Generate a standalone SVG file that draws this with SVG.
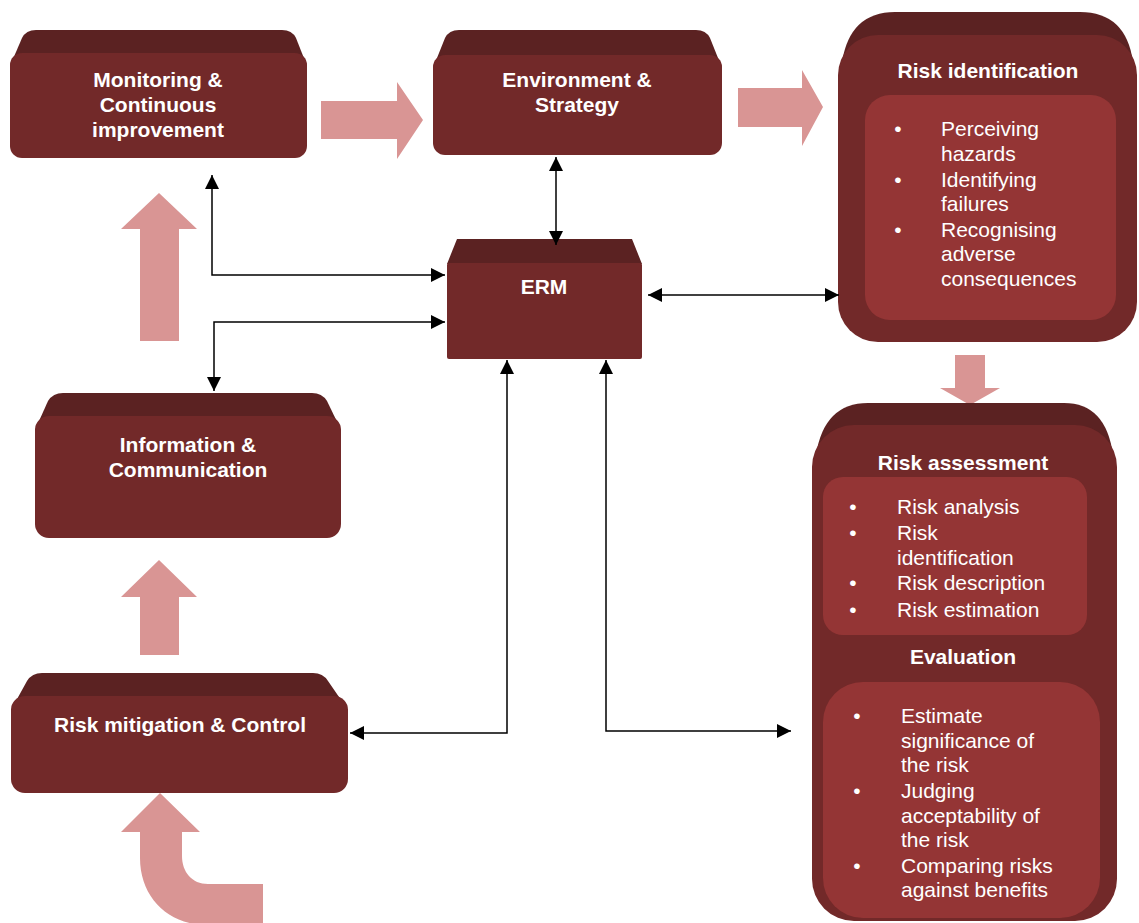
<svg xmlns="http://www.w3.org/2000/svg" width="1139" height="923" viewBox="0 0 1139 923">
  <style>
    .top { fill: #5B2222; }
    .front { fill: #722929; }
    .inner { fill: #943535; }
    .flow { fill: #D99594; }
    .title { font-family: "Liberation Sans", Arial, sans-serif; font-weight: bold; font-size: 21px; fill: #FFFFFF; text-anchor: middle; }
    .body { font-family: "Liberation Sans", Arial, sans-serif; font-size: 21px; fill: #FFFFFF; }
    .bullet { text-anchor: middle; }
    .link { fill: none; stroke: #000000; stroke-width: 1.5; marker-start: url(#head); marker-end: url(#head); }
  </style>
  <defs>
    <marker id="head" viewBox="0 0 14 14" refX="14" refY="7" markerWidth="14" markerHeight="14" markerUnits="userSpaceOnUse" orient="auto-start-reverse">
      <path d="M0,0 L14,7 L0,14 Z" fill="#000000"/>
    </marker>
  </defs>

  <rect width="1139" height="923" fill="#FFFFFF"/>

  <!-- process flow block arrows -->
  <g id="flow-arrows">
    <path class="flow" d="M321,101 H397 V82 L423,120 L397,159 V139 H321 Z"/>
    <path class="flow" d="M738,88 H802 V70 L823,107 L802,146 V127 H738 Z"/>
    <path class="flow" d="M140,341 V229 H121 L159,193 L197,229 H179 V341 Z"/>
    <path class="flow" d="M140,655 V597 H121 L159,560 L197,597 H179 V655 Z"/>
    <path class="flow" d="M955,355 H985 V388 H1000 L970,405 L940,388 H955 Z"/>
    <path class="flow" d="M121,832 L160,793 L200,832 H182 V856 C182,872 192,884 208,884 H263 V925 H207 C168,925 140,897 140,858 V832 Z"/>
  </g>

  <!-- Monitoring & Continuous improvement -->
  <g id="monitoring">
    <path class="top" d="M10,66 L22,38 Q26,30 36,30 H282 Q292,30 296,38 L307,66 Z"/>
    <rect class="front" x="10" y="53" width="297" height="105" rx="12"/>
    <text class="title" x="158" y="87">Monitoring &amp;</text>
    <text class="title" x="158" y="112">Continuous</text>
    <text class="title" x="158" y="137">improvement</text>
  </g>

  <!-- Environment & Strategy -->
  <g id="environment">
    <path class="top" d="M433,68 L445,38 Q449,30 459,30 H696 Q706,30 710,38 L722,68 Z"/>
    <rect class="front" x="433" y="55" width="289" height="100" rx="12"/>
    <text class="title" x="577" y="87">Environment &amp;</text>
    <text class="title" x="577" y="112">Strategy</text>
  </g>

  <!-- ERM -->
  <g id="erm">
    <path class="top" d="M447,264 L457,239 H632 L642,264 Z"/>
    <rect class="front" x="447" y="263" width="195" height="96" rx="2"/>
    <text class="title" x="544" y="294">ERM</text>
  </g>

  <!-- Information & Communication -->
  <g id="information">
    <path class="top" d="M35,430 L48,401 Q53,393 63,393 H312 Q322,393 327,401 L341,430 Z"/>
    <rect class="front" x="35" y="416" width="306" height="122" rx="14"/>
    <text class="title" x="188" y="452">Information &amp;</text>
    <text class="title" x="188" y="477">Communication</text>
  </g>

  <!-- Risk mitigation & Control -->
  <g id="mitigation">
    <path class="top" d="M11,710 L27,681 Q32,673 42,673 H313 Q323,673 328,681 L348,710 Z"/>
    <rect class="front" x="11" y="696" width="337" height="97" rx="14"/>
    <text class="title" x="180" y="732">Risk mitigation &amp; Control</text>
  </g>

  <!-- Risk identification -->
  <g id="identification">
    <path class="top" d="M838,100 L842,62 Q850,12 895,12 H1080 Q1126,12 1133,62 L1137,100 Z"/>
    <rect class="front" x="838" y="35" width="299" height="307" rx="40"/>
    <rect class="inner" x="865" y="95" width="251" height="225" rx="25"/>
    <text class="title" x="988" y="78">Risk identification</text>
    <g class="body">
      <text class="bullet" x="898" y="136">•</text>
      <text x="941" y="136">Perceiving</text>
      <text x="941" y="161">hazards</text>
      <text class="bullet" x="898" y="187">•</text>
      <text x="941" y="187">Identifying</text>
      <text x="941" y="211">failures</text>
      <text class="bullet" x="898" y="237">•</text>
      <text x="941" y="237">Recognising</text>
      <text x="941" y="261">adverse</text>
      <text x="941" y="286">consequences</text>
    </g>
  </g>

  <!-- Risk assessment and Evaluation -->
  <g id="assessment">
    <path class="top" d="M812,490 L816,455 Q824,403 868,403 H1064 Q1106,403 1113,455 L1117,490 Z"/>
    <rect class="front" x="812" y="425" width="305" height="496" rx="42"/>
    <rect class="inner" x="823" y="477" width="264" height="158" rx="20"/>
    <rect class="inner" x="823" y="682" width="277" height="236" rx="40"/>
    <text class="title" x="963" y="470">Risk assessment</text>
    <g class="body">
      <text class="bullet" x="853" y="514">•</text>
      <text x="897" y="514">Risk analysis</text>
      <text class="bullet" x="853" y="540">•</text>
      <text x="897" y="540">Risk</text>
      <text x="897" y="565">identification</text>
      <text class="bullet" x="853" y="590">•</text>
      <text x="897" y="590">Risk description</text>
      <text class="bullet" x="853" y="617">•</text>
      <text x="897" y="617">Risk estimation</text>
    </g>
    <text class="title" x="963" y="664">Evaluation</text>
    <g class="body">
      <text class="bullet" x="857" y="723">•</text>
      <text x="901" y="723">Estimate</text>
      <text x="901" y="748">significance of</text>
      <text x="901" y="772">the risk</text>
      <text class="bullet" x="857" y="798">•</text>
      <text x="901" y="798">Judging</text>
      <text x="901" y="823">acceptability of</text>
      <text x="901" y="847">the risk</text>
      <text class="bullet" x="857" y="873">•</text>
      <text x="901" y="873">Comparing risks</text>
      <text x="901" y="897">against benefits</text>
    </g>
  </g>

  <!-- two-way connectors to and from ERM -->
  <g id="connectors">
    <path class="link" d="M212,175 V275 H445"/>
    <path class="link" d="M445,322 H214 V391"/>
    <path class="link" d="M556,157 V245"/>
    <path class="link" d="M648,295 H839"/>
    <path class="link" d="M507,360 V733 H350"/>
    <path class="link" d="M606,360 V731 H791"/>
  </g>
</svg>
